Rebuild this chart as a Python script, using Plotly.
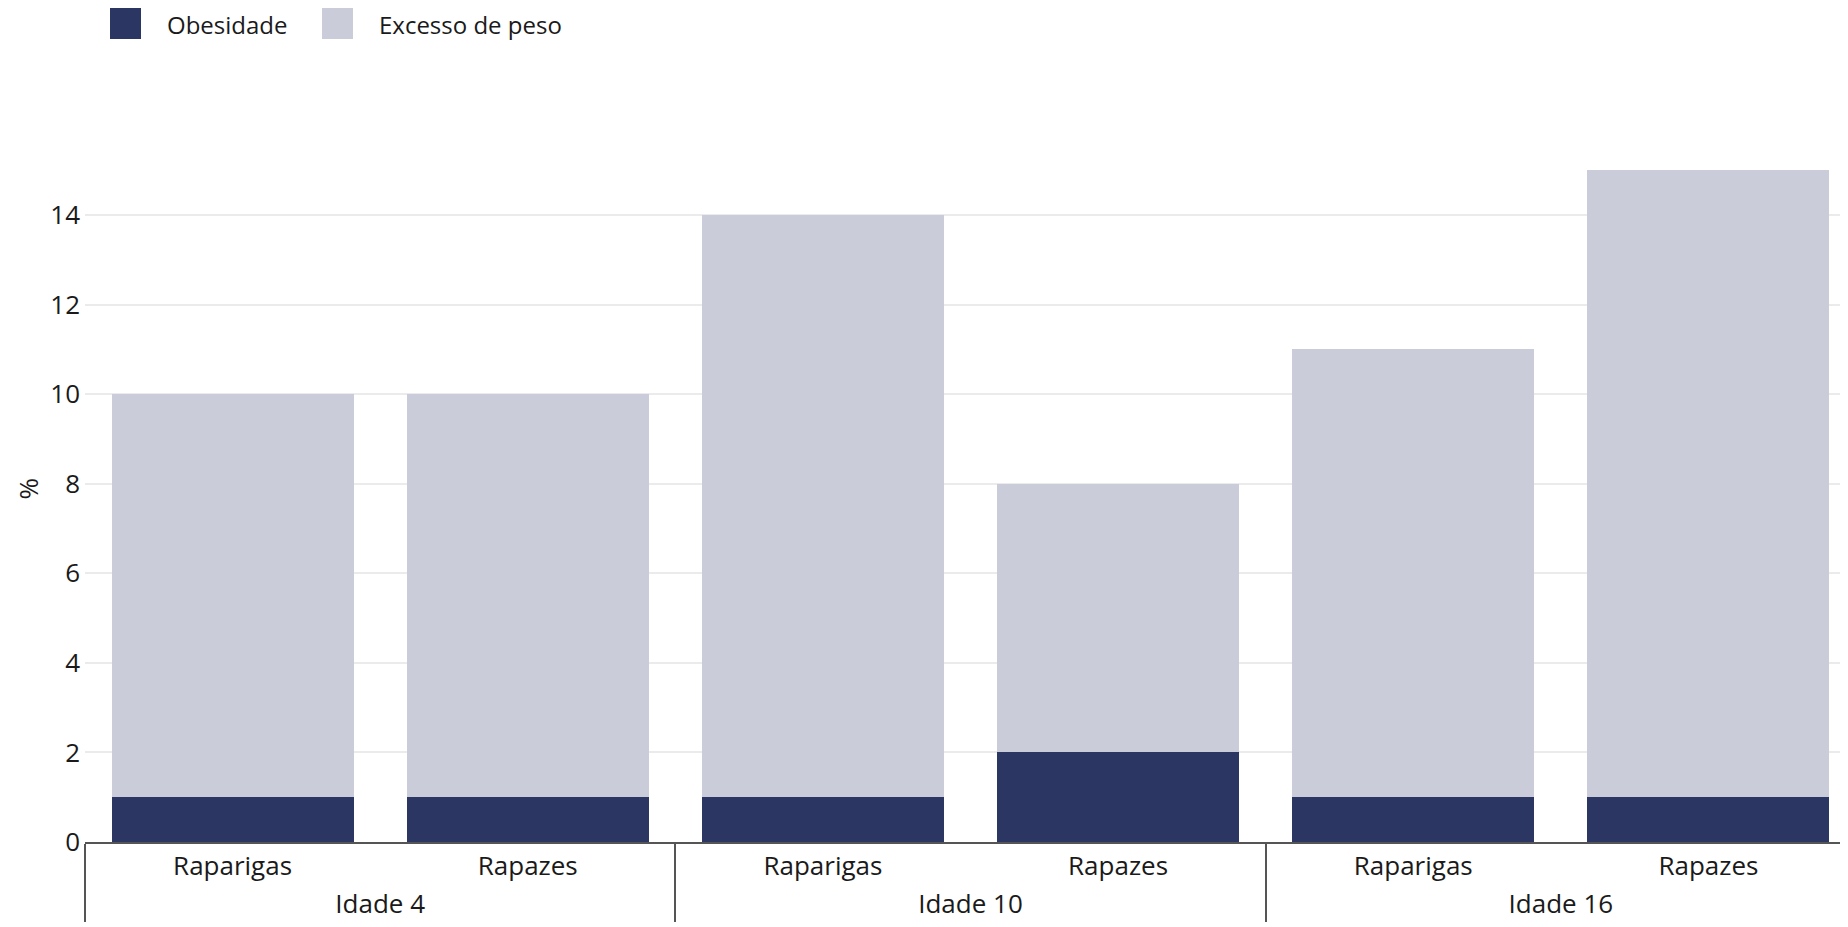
import plotly.graph_objects as go

grupos = ["Idade 4", "Idade 4", "Idade 10", "Idade 10", "Idade 16", "Idade 16"]
sexo = ["Raparigas", "Rapazes", "Raparigas", "Rapazes", "Raparigas", "Rapazes"]
obesidade = [1, 1, 1, 2, 1, 1]
excesso_peso = [9, 9, 13, 6, 10, 14]
y_ticks = [0, 2, 4, 6, 8, 10, 12, 14]

C_OB = "#2b3663"
C_EX = "#cacdd9"
FONT = "Open Sans"
W, H = 1848, 927
L, R, T, B = 77, 0, 127, 93

fig = go.Figure()
fig.add_trace(go.Bar(x=[grupos, sexo], y=obesidade, name="Obesidade",
                     marker=dict(color=C_OB, line=dict(width=0))))
fig.add_trace(go.Bar(x=[grupos, sexo], y=excesso_peso, name="Excesso de peso",
                     marker=dict(color=C_EX, line=dict(width=0))))

pw = W - L - R
ph = H - T - B


def px(x):
    return (x - L) / pw


def py(y):
    return (H - B - y) / ph


shapes = []
annotations = []
legend_items = [("Obesidade", C_OB, 102, 157), ("Excesso de peso", C_EX, 314, 369)]
for name, col, sx, tx in legend_items:
    shapes.append(dict(type="rect", xref="paper", yref="paper",
                       x0=px(sx), x1=px(sx + 31), y0=py(31), y1=py(0),
                       fillcolor=col, line=dict(width=0)))
    annotations.append(dict(text=name, xref="paper", yref="paper",
                            x=px(tx), y=py(16), xanchor="left", yanchor="middle",
                            showarrow=False, font=dict(family=FONT, size=24, color="#1a1a1a")))

annotations.append(dict(text="%", xref="paper", yref="paper", x=px(19), y=0.5,
                        xanchor="center", yanchor="middle", textangle=-90,
                        showarrow=False, font=dict(family=FONT, size=26, color="#1a1a1a")))

fig.update_layout(
    width=W, height=H,
    barmode="stack", bargap=0.18,
    plot_bgcolor="white", paper_bgcolor="white",
    margin=dict(l=L, r=R, t=T, b=B, pad=0),
    showlegend=False,
    font=dict(family=FONT, size=26, color="#1a1a1a"),
    shapes=shapes, annotations=annotations,
    xaxis=dict(type="multicategory", range=[-0.5, 5.5], showline=True,
               linecolor="#555555", linewidth=2, showgrid=False,
               showdividers=True, dividercolor="#555555", dividerwidth=1.5,
               tickfont=dict(family=FONT, size=26, color="#1a1a1a"),
               automargin=False, ticks=""),
    yaxis=dict(range=[0, 15.79], tickvals=y_ticks, showgrid=True,
               gridcolor="#ebebeb", gridwidth=1.5, zeroline=False, showline=False,
               tickfont=dict(family=FONT, size=26, color="#1a1a1a"),
               automargin=False, ticks="", ticklabelstandoff=4),
)

fig.write_html("out.html")
